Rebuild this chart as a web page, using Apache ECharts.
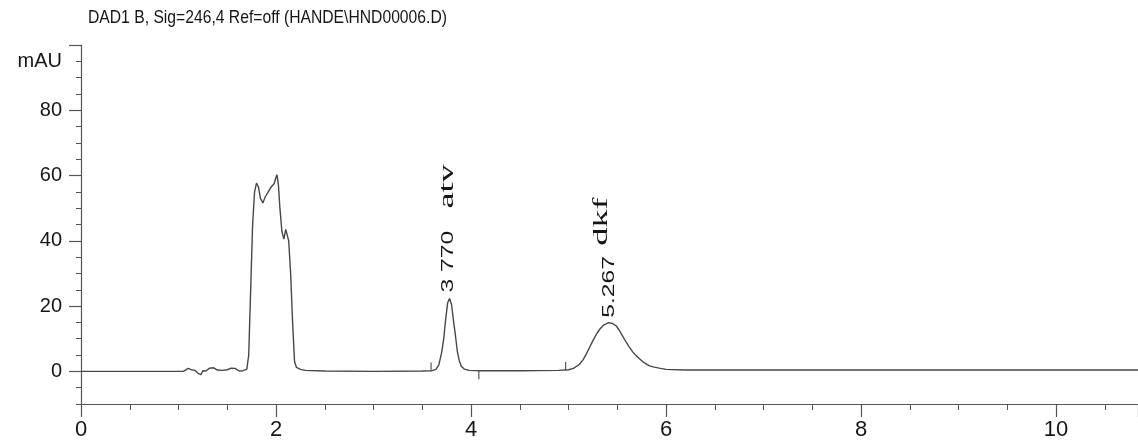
<!DOCTYPE html>
<html>
<head>
<meta charset="utf-8">
<script src="https://cdn.jsdelivr.net/npm/echarts@6/dist/echarts.min.js"></script>
<style>html,body{margin:0;padding:0;background:#fff}#c{width:1138px;height:441px}</style>
</head>
<body>
<div id="c"></div>
<script>
var titleText = 'DAD1 B, Sig=246,4 Ref=off (HANDE\\HND00006.D)';
var yUnit = 'mAU';
var xTickLabels = [0, 2, 4, 6, 8, 10];
var yTickLabels = [0, 20, 40, 60, 80];

// retention time (min), absorbance (mAU)
var signalTime = [
  0.00, 0.50, 1.00, 1.05, 1.10, 1.13, 1.17, 1.20, 1.23, 1.25, 1.28, 1.32, 1.36, 1.40, 1.45, 1.50, 1.54, 1.58, 1.62, 1.66, 1.70,
  1.72, 1.74, 1.76, 1.78, 1.80, 1.82, 1.84, 1.865, 1.89, 1.92, 1.95, 1.98, 2.00, 2.01, 2.025, 2.04, 2.06, 2.08, 2.10, 2.115, 2.13, 2.15, 2.17, 2.19, 2.21, 2.25, 2.30, 2.50,
  3.00, 3.50, 3.60, 3.64, 3.67, 3.70, 3.72, 3.74, 3.76, 3.78, 3.80, 3.82, 3.84, 3.86, 3.88, 3.90, 3.93, 3.98, 4.10, 4.50,
  4.90, 5.00, 5.05, 5.11, 5.15, 5.18, 5.22, 5.25, 5.29, 5.32, 5.36, 5.41, 5.45, 5.49, 5.52, 5.55, 5.59, 5.62, 5.66, 5.69, 5.73, 5.76, 5.80, 5.83, 5.88, 5.93, 6.00, 6.20,
  7.00, 8.00, 9.00, 10.00, 10.84
];
var signalValue = [
  0.0, 0.0, 0.0, 0.0, 0.9, 0.5, 0.3, -0.6, -1.0, 0.2, 0.1, 1.0, 1.1, 0.4, 0.3, 0.5, 1.0, 0.9, 0.1, 0.2, 0.6,
  5.0, 25.0, 45.0, 55.0, 57.7, 56.5, 53.0, 51.6, 53.5, 55.0, 56.5, 57.5, 59.5, 60.2, 57.0, 50.0, 43.0, 40.5, 43.5, 44.0, 40.0, 30.0, 15.0, 3.0, 1.2, 0.6, 0.3, 0.1,
  0.0, 0.1, 0.2, 0.6, 2.0, 6.0, 10.0, 16.0, 21.0, 22.3, 20.5, 15.5, 11.0, 6.0, 3.2, 1.6, 0.7, 0.3, 0.2, 0.2,
  0.3, 0.5, 0.9, 2.1, 3.6, 5.2, 7.6, 9.4, 11.6, 12.9, 14.2, 14.9, 14.7, 13.9, 12.6, 11.0, 9.0, 7.6, 5.9, 4.9, 3.8, 3.0, 2.2, 1.7, 1.3, 1.0, 0.6, 0.4,
  0.4, 0.4, 0.4, 0.4, 0.4
];

// integration event marks: time, start value, end value
var markTime = [3.59, 4.08, 4.97];
var markFrom = [0.2, 0.2, 0.3];
var markTo = [2.7, -2.4, 2.9];

// peak annotations
var peakTime = [3.77, 5.41];
var peakHeight = [22.3, 14.9];
var peakRT = ['3 770', '5.267'];
var peakName = ['atv', 'dkf'];

var signal = signalTime.map(function (t, i) { return [t, signalValue[i]]; });
var marks = [];
markTime.forEach(function (t, i) {
  marks.push([t, markFrom[i]]); marks.push([t, markTo[i]]); marks.push(['-', '-']);
});

var axisColor = '#555';
var textColor = '#161616';
var sans = '"Liberation Sans", Arial, sans-serif';
var serif = '"Liberation Serif", "Times New Roman", serif';

var chart = echarts.init(document.getElementById('c'), null, { renderer: 'canvas' });
var option = {
  animation: false,
  backgroundColor: '#fff',
  grid: { left: 81, right: 0, top: 45, bottom: 36, containLabel: false },
  xAxis: {
    type: 'value', min: 0, max: 10.84, interval: 2,
    axisLine: { onZero: false, lineStyle: { color: axisColor, width: 1.2 } },
    axisTick: { length: 13, lineStyle: { color: axisColor, width: 1.2 } },
    minorTick: { show: true, splitNumber: 4, length: 6, lineStyle: { color: axisColor, width: 1 } },
    splitLine: { show: false },
    axisLabel: {
      margin: 15, fontFamily: sans, fontSize: 22, color: textColor,
      customValues: xTickLabels
    }
  },
  yAxis: [
    {
      type: 'value', min: -10, max: 100, interval: 5, position: 'left',
      axisLine: { show: true, lineStyle: { color: axisColor, width: 1.2 } },
      axisTick: { show: true, length: 5, lineStyle: { color: axisColor, width: 1 } },
      axisLabel: { show: false },
      splitLine: { show: false }
    },
    {
      type: 'value', min: -10, max: 100, position: 'left',
      axisLine: { show: false },
      axisTick: { show: true, length: 12, customValues: [0, 20, 40, 60, 80, 100], lineStyle: { color: axisColor, width: 1.2 } },
      axisLabel: {
        margin: 19, fontFamily: sans, fontSize: 20, color: textColor,
        customValues: yTickLabels.concat([95]),
        formatter: function (v) { return v === 95 ? yUnit : String(v); }
      },
      splitLine: { show: false }
    }
  ],
  series: [
    {
      type: 'line', data: signal, showSymbol: false, symbol: 'none', smooth: false,
      lineStyle: { color: '#474747', width: 1.4 }, z: 3
    },
    {
      type: 'line', data: marks, showSymbol: false, symbol: 'none', connectNulls: false,
      lineStyle: { color: '#555', width: 1.2 }, z: 2
    }
  ]
};
chart.setOption(option);

function placeAnnotations() {
  var g = [{
    type: 'text', x: 88, y: 8, scaleY: 1.2,
    style: { text: titleText, fontFamily: sans, fontSize: 15.7, fill: textColor,
      textAlign: 'left', textVerticalAlign: 'top', align: 'left', verticalAlign: 'top' }
  }];
  peakTime.forEach(function (t, i) {
    var p = chart.convertToPixel({ seriesIndex: 0 }, [t, peakHeight[i]]);
    var rtOff = i === 0 ? [0, -6] : [1, -5];
    var nmOff = i === 0 ? [-1, -90] : [-7, -77];
    g.push({
      type: 'text', x: p[0] + rtOff[0], y: p[1] + rtOff[1], rotation: Math.PI / 2, scaleX: 1.45,
      style: { text: peakRT[i], fontFamily: sans, fontSize: 17, fill: textColor,
        textAlign: 'left', textVerticalAlign: 'middle', align: 'left', verticalAlign: 'middle' }
    });
    g.push({
      type: 'text', x: p[0] + nmOff[0], y: p[1] + nmOff[1], rotation: Math.PI / 2, scaleX: 1.65,
      style: { text: peakName[i], fontFamily: serif, fontSize: 22, fill: textColor,
        textAlign: 'left', textVerticalAlign: 'middle', align: 'left', verticalAlign: 'middle' }
    });
  });
  chart.setOption({ graphic: g });
}
placeAnnotations();
</script>
</body>
</html>
